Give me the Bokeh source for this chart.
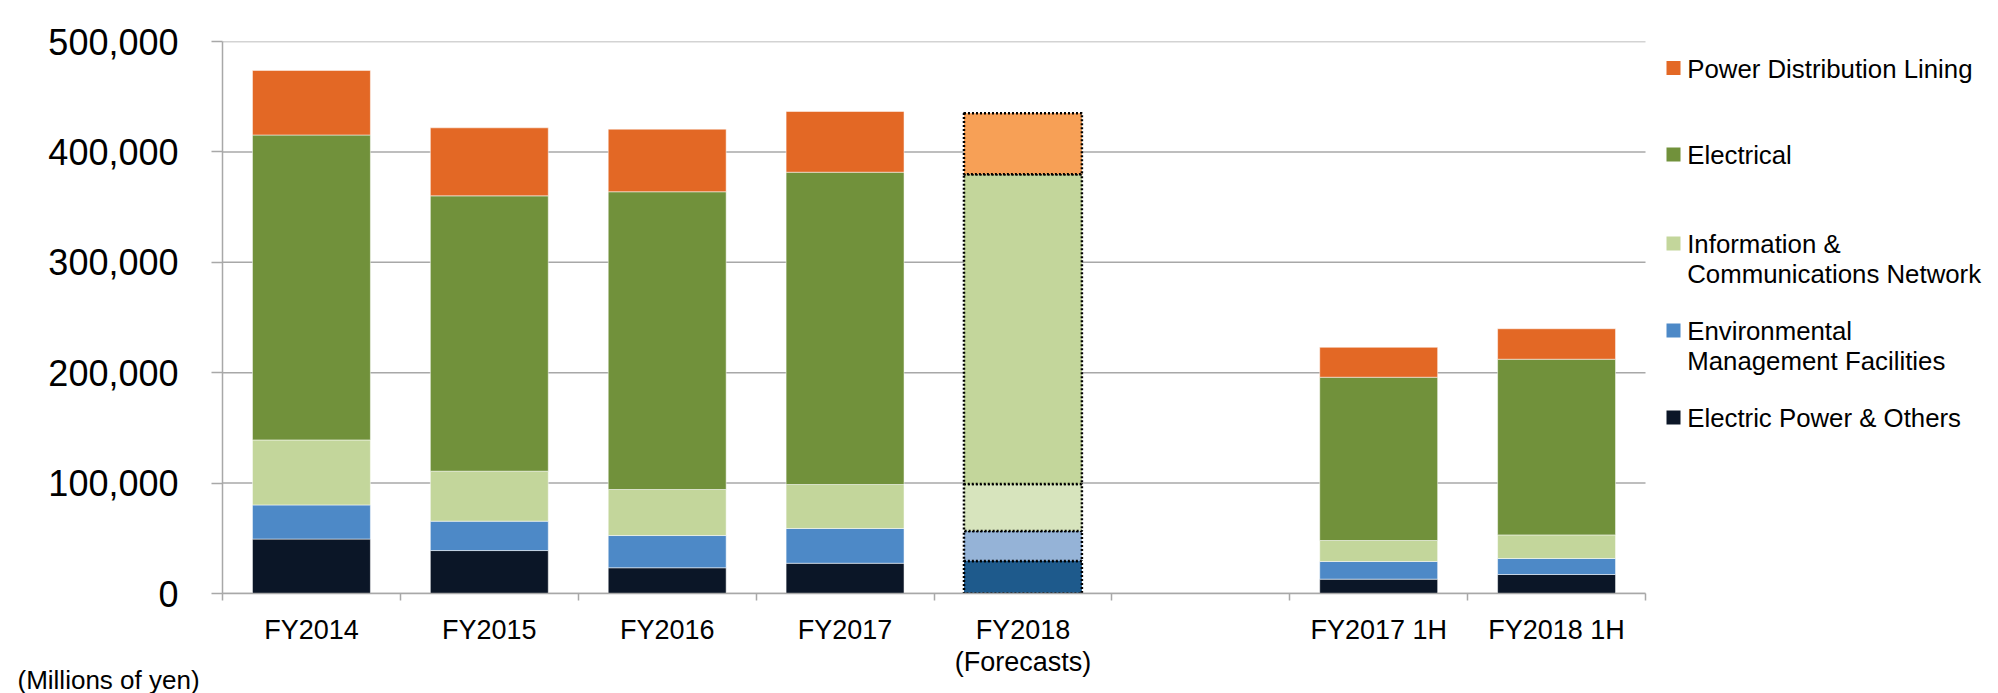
from bokeh.plotting import figure
from bokeh.models import ColumnDataSource, Range1d, FixedTicker, NumeralTickFormatter, Title
from bokeh.embed import file_html
from bokeh.resources import INLINE
from bokeh.core.properties import value

# ---------------- data ----------------
categories = ["FY2014", "FY2015", "FY2016", "FY2017", "FY2018\n(Forecasts)", "", "FY2017 1H", "FY2018 1H"]
is_forecast = [False, False, False, False, True, False, False, False]

electric_power = [49300, 38900, 23300, 27400, 29500, 0, 13000, 17200]
environmental = [30900, 26600, 29200, 31500, 27200, 0, 16000, 14500]
info_comm = [58900, 45300, 41700, 39800, 42400, 0, 19000, 21400]
electrical = [276200, 249400, 269700, 282900, 280700, 0, 147900, 159100]
power_dist = [58500, 61600, 56700, 55000, 55300, 0, 27100, 27600]

series_names = ["Electric Power & Others",
                "Environmental\nManagement Facilities",
                "Information &\nCommunications Network",
                "Electrical",
                "Power Distribution Lining"]
colors = ["#0B1627", "#4D89C7", "#C3D69B", "#71913B", "#E36825"]
forecast_colors = ["#1E5A8C", "#95B3D7", "#D7E4BD", "#C3D69B", "#F7A056"]
y_ticks = [0, 100000, 200000, 300000, 400000, 500000]
unit_label = "(Millions of yen)"

# ---------------- layout constants (pixels) ----------------
FONT = "Liberation Sans"
GRAY = "#A8A8A8"
W, H = 1998, 693
LEFT, TOP, BOTTOM = 222, 41, 100
CHART_W = 1423          # width of the category area
FRAME_W = W - LEFT      # frame extends to the right edge to host the legend
FRAME_BOTTOM = H - BOTTOM

n_cat = len(categories)
keys = ["ep", "env", "ict", "elec", "pdl"]
values_by_series = [electric_power, environmental, info_comm, electrical, power_dist]
x_pos = [i + 0.5 for i in range(n_cat)]
actual_idx = [i for i, c in enumerate(categories) if c and not is_forecast[i]]
fc_idx = [i for i, f in enumerate(is_forecast) if f]


def make_src(idx):
    d = {"x": [x_pos[i] for i in idx]}
    for k, vals in zip(keys, values_by_series):
        d[k] = [vals[i] for i in idx]
    return ColumnDataSource(d)


p = figure(width=W, height=H,
           x_range=Range1d(0, n_cat * FRAME_W / CHART_W), y_range=Range1d(0, 500000),
           min_border_left=LEFT, min_border_right=0, min_border_top=TOP, min_border_bottom=BOTTOM,
           toolbar_location=None, output_backend="svg")
p.outline_line_color = None
p.xgrid.visible = False
p.ygrid.visible = False

# pixel-space ranges for the legend block on the right
p.extra_x_ranges = {"px": Range1d(LEFT, W)}
p.extra_y_ranges = {"py": Range1d(FRAME_BOTTOM, TOP)}

# horizontal gridlines, limited to the category area
p.segment(x0=[0] * len(y_ticks), x1=[n_cat] * len(y_ticks), y0=y_ticks, y1=y_ticks,
          line_color=GRAY, line_width=1.5)

p.vbar_stack(keys, x="x", width=0.663, fill_color=colors, line_color="white",
             line_width=1, line_alpha=0.5, source=make_src(actual_idx))
p.vbar_stack(keys, x="x", width=0.663, fill_color=forecast_colors, line_color="black",
             line_width=2.5, line_dash="2 2", source=make_src(fc_idx))

yax = p.yaxis[0]
yax.ticker = FixedTicker(ticks=y_ticks)
yax.formatter = NumeralTickFormatter(format="0,0")
yax.major_label_text_font = FONT
yax.major_label_text_font_size = "36px"
yax.major_label_text_color = "#000000"
yax.major_tick_out = 11
yax.major_tick_in = 0
yax.major_tick_line_color = GRAY
yax.major_tick_line_width = 1.5
yax.minor_tick_line_color = None
yax.axis_line_color = GRAY
yax.axis_line_width = 1.5
yax.major_label_standoff = 33

xax = p.xaxis[0]
xax.bounds = (0, n_cat)
xax.ticker = FixedTicker(ticks=x_pos, minor_ticks=list(range(n_cat + 1)))
xax.major_label_overrides = {x_pos[i]: categories[i] for i in range(n_cat)}
xax.major_tick_line_color = None
xax.major_tick_out = 0
xax.major_tick_in = 0
xax.minor_tick_out = 7
xax.minor_tick_in = 0
xax.minor_tick_line_color = GRAY
xax.minor_tick_line_width = 1.5
xax.axis_line_color = GRAY
xax.axis_line_width = 1.5
xax.major_label_standoff = 14
xax.major_label_text_font = FONT
xax.major_label_text_font_size = "27px"
xax.major_label_text_line_height = 1.07
xax.major_label_text_color = "#000000"

p.add_layout(Title(text=unit_label, align="left", vertical_align="top",
                   offset=17 - LEFT, standoff=-30,
                   text_font=FONT, text_font_size="26px", text_font_style="normal",
                   text_color="#000000"), "below")

# ---------------- legend (pixel coordinates via extra ranges) ----------------
order = list(range(len(series_names)))[::-1]
sq_y = [67.5, 154, 243, 330, 417]
p.scatter(x=[1673] * len(order), y=sq_y, marker="square", size=14,
          fill_color=[colors[i] for i in order], line_color=None,
          x_range_name="px", y_range_name="py")
tx, ty, tt = [], [], []
for yy, i in zip(sq_y, order):
    for j, line in enumerate(series_names[i].split("\n")):
        tx.append(1686.7)
        ty.append(yy + 0.5 + 30 * j)
        tt.append(line)
p.text(x=tx, y=ty, text=tt, text_font=value(FONT), text_font_size="25.8px",
       text_baseline="middle", text_align="left", text_color="#000000",
       x_range_name="px", y_range_name="py")

open("out.html", "w").write(file_html(p, INLINE))
